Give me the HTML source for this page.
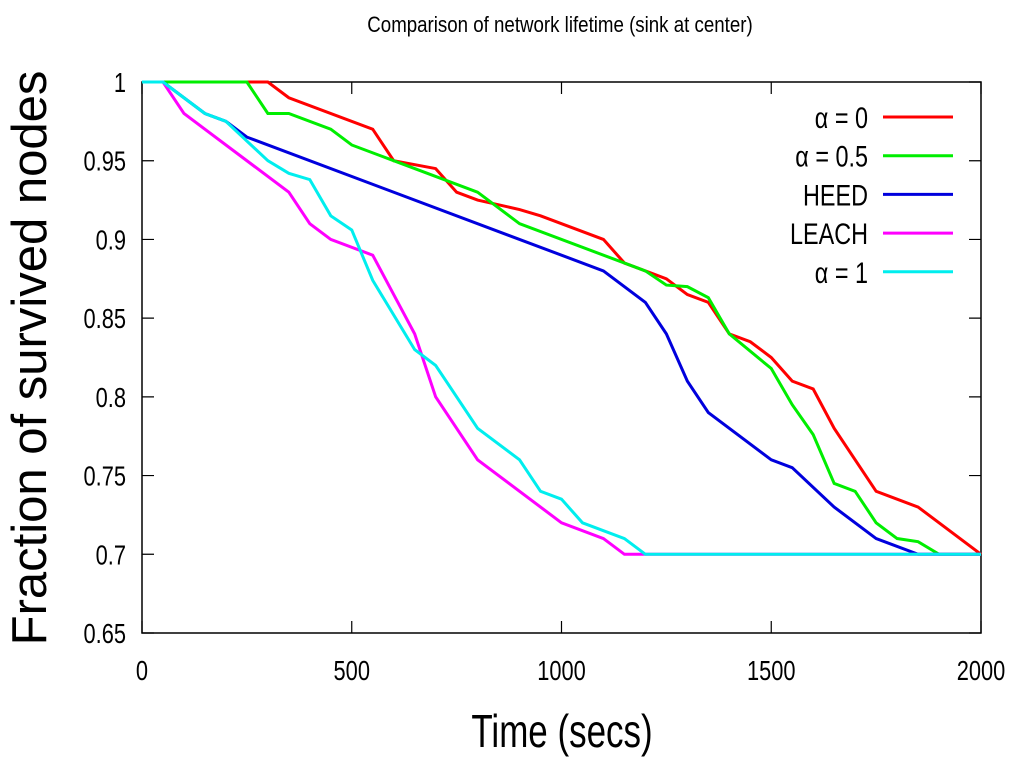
<!DOCTYPE html>
<html><head><meta charset="utf-8"><style>
body{margin:0;background:#fff;}
svg{display:block;font-family:"Liberation Sans",sans-serif;}
</style></head><body>
<svg id="chart" width="1024" height="769" viewBox="0 0 1024 769" xmlns="http://www.w3.org/2000/svg">
<text x="560" y="32" font-size="22" text-anchor="middle" transform="translate(560,0) scale(0.85,1) translate(-560,0)">Comparison of network lifetime (sink at center)</text>
<g id="axes"></g>
<g id="series"></g>
<g id="legend"></g>
<text x="562" y="747" font-size="46" text-anchor="middle" transform="translate(562,0) scale(0.76,1) translate(-562,0)">Time (secs)</text>
<text x="0" y="0" font-size="49" text-anchor="middle" transform="translate(46,358) rotate(-90)">Fraction of survived nodes</text>
</svg>
<script>
const xTicks=[0,500,1000,1500,2000];
const yTicks=[0.65,0.7,0.75,0.8,0.85,0.9,0.95,1];
const yTickLabels=["0.65","0.7","0.75","0.8","0.85","0.9","0.95","1"];
const seriesNames=["α = 0","α = 0.5","HEED","LEACH","α = 1"];
const seriesColors=["#ff0000","#00ee00","#0000dd","#ff00ff","#00eeee"];
const alpha0X=[0,300,350,550,600,700,750,800,900,950,1100,1150,1250,1300,1350,1400,1450,1500,1550,1600,1650,1750,1850,2000];
const alpha0Y=[1,1,0.99,0.97,0.95,0.945,0.93,0.925,0.919,0.915,0.9,0.885,0.875,0.865,0.86,0.84,0.835,0.825,0.81,0.805,0.78,0.74,0.73,0.7];
const alpha05X=[0,250,300,350,450,500,600,800,900,1200,1250,1300,1350,1400,1500,1550,1600,1650,1700,1750,1800,1850,1900,2000];
const alpha05Y=[1,1,0.98,0.98,0.97,0.96,0.95,0.93,0.91,0.88,0.871,0.87,0.863,0.84,0.818,0.795,0.776,0.745,0.74,0.72,0.71,0.708,0.7,0.7];
const heedX=[0,50,150,200,250,1100,1200,1250,1300,1350,1500,1550,1650,1750,1850,2000];
const heedY=[1,1,0.98,0.975,0.965,0.88,0.86,0.84,0.81,0.79,0.76,0.755,0.73,0.71,0.7,0.7];
const leachX=[0,50,100,350,400,450,550,600,650,700,800,1000,1100,1150,2000];
const leachY=[1,1,0.98,0.93,0.91,0.9,0.89,0.865,0.84,0.8,0.76,0.72,0.71,0.7,0.7];
const alpha1X=[0,50,150,200,300,350,400,450,500,550,650,700,800,900,950,1000,1050,1150,1200,2000];
const alpha1Y=[1,1,0.98,0.975,0.95,0.942,0.938,0.915,0.906,0.874,0.83,0.82,0.78,0.76,0.74,0.735,0.72,0.71,0.7,0.7];

const X0=142,X1=981,Y0=633,Y1=82;
const xs=v=>X0+(v-0)/(2000-0)*(X1-X0);
const ys=v=>Y0-(v-0.65)/(1-0.65)*(Y0-Y1);
const NS="http://www.w3.org/2000/svg";
function mk(tag,parent){const e=document.createElementNS(NS,tag);parent.appendChild(e);return e;}
const axes=document.getElementById('axes');
const frame=mk('rect',axes);


frame.setAttribute('x',X0);frame.setAttribute('y',Y1);frame.setAttribute('width',X1-X0);frame.setAttribute('height',Y0-Y1);
frame.setAttribute('fill','none');frame.setAttribute('stroke','#000');frame.setAttribute('stroke-width','1.5');
xTicks.forEach((t,i)=>{
  const x=xs(t);
  const l=mk('path',axes);
  
  
  l.setAttribute('d',`M${x},${Y0}v-12M${x},${Y1}v12`);l.setAttribute('stroke','#000');l.setAttribute('stroke-width','1.2');
  const tx=mk('text',axes);
  
  
  tx.setAttribute('x',x);tx.setAttribute('y',680);tx.setAttribute('font-size','28');tx.setAttribute('text-anchor','middle');
  tx.setAttribute('transform',`translate(${x},0) scale(0.78,1) translate(${-x},0)`);
  tx.textContent=String(t);
});
yTicks.forEach((t,i)=>{
  const y=ys(t);
  const l=mk('path',axes);
  
  
  l.setAttribute('d',`M${X0},${y}h12M${X1},${y}h-12`);l.setAttribute('stroke','#000');l.setAttribute('stroke-width','1.2');
  const tx=mk('text',axes);
  
  
  tx.setAttribute('x',126);tx.setAttribute('y',y+10);tx.setAttribute('font-size','28');tx.setAttribute('text-anchor','end');
  tx.setAttribute('transform',`translate(126,0) scale(0.78,1) translate(-126,0)`);
  tx.textContent=yTickLabels[i];
});
const allX=[alpha0X,alpha05X,heedX,leachX,alpha1X];
const allY=[alpha0Y,alpha05Y,heedY,leachY,alpha1Y];
const sg=document.getElementById('series');
const lg=document.getElementById('legend');
const sNames=['series-alpha-0','series-alpha-0-5','series-heed','series-leach','series-alpha-1'];
allX.forEach((xa,k)=>{
  const p=mk('polyline',sg);
  
  
  p.setAttribute('points',xa.map((v,i)=>xs(v)+','+ys(allY[k][i])).join(' '));
  p.setAttribute('fill','none');p.setAttribute('stroke',seriesColors[k]);p.setAttribute('stroke-width','3');p.setAttribute('stroke-linejoin','miter');
});
seriesNames.forEach((n,k)=>{
  const y=117+k*38.7;
  const t=mk('text',lg);
  
  
  t.setAttribute('x',868);t.setAttribute('y',y+11);t.setAttribute('font-size','30');t.setAttribute('text-anchor','end');
  t.setAttribute('transform',`translate(868,0) scale(0.78,1) translate(-868,0)`);
  t.textContent=n;
  const l=mk('line',lg);
  
  
  l.setAttribute('x1',883);l.setAttribute('x2',953);l.setAttribute('y1',y);l.setAttribute('y2',y);
  l.setAttribute('stroke',seriesColors[k]);l.setAttribute('stroke-width','3');
});
</script>
</body></html>
